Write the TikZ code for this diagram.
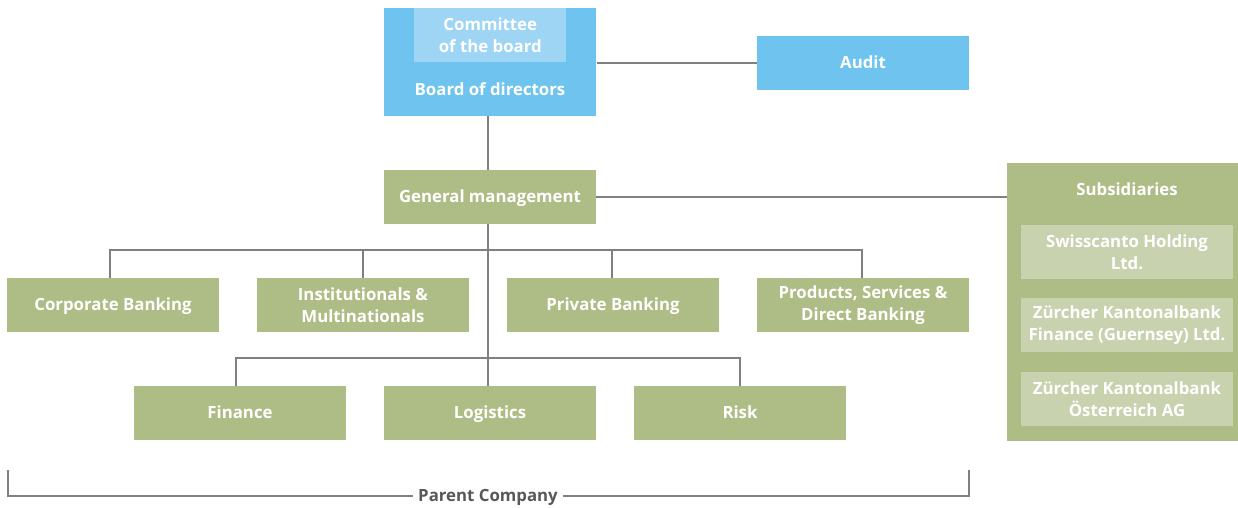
\documentclass[tikz,border=0pt]{standalone}
\usepackage{fontspec}
\setmainfont{Open Sans}
\begin{document}
\begin{tikzpicture}[x=0.75pt,y=-0.75pt,
  font=\bfseries\fontsize{12.6}{16.5}\selectfont,
  box/.style={fill=#1,draw=none,text=white,align=center,inner sep=0pt},
  unit/.style={box=greenA,minimum width=212*0.75pt,minimum height=54*0.75pt},
  one/.style={text height=10pt,text depth=2pt},
  line/.style={draw=black!50,line width=0.9pt}]
\definecolor{blueA}{HTML}{6EC4EE}
\definecolor{blueB}{HTML}{9ED5F4}
\definecolor{greenA}{HTML}{AEBC85}
\definecolor{greenB}{HTML}{C9D2AF}
\definecolor{greytext}{HTML}{58585A}
\useasboundingbox (0,0) rectangle (1238,507);

% Board of directors with committee
\node[box=blueA,minimum width=212*0.75pt,minimum height=108*0.75pt,anchor=north west] (board) at (384,8) {};
\node[box=blueB,minimum width=152*0.75pt,minimum height=54*0.75pt,anchor=north west] (committee) at (414,8) {Committee\\of the board};
\node[text=white,one] (boardlabel) at (490,90) {Board of directors};

\node[box=blueA,one,minimum width=212*0.75pt,minimum height=54*0.75pt] (audit) at (863,63) {Audit};

\node[unit,one] (gm) at (490,197) {General management};

% Subsidiaries
\node[box=greenA,minimum width=231*0.75pt,minimum height=278*0.75pt,anchor=north west] (subs) at (1007,163) {};
\node[text=white,one] (substitle) at (1127,190) {Subsidiaries};
\node[box=greenB,minimum width=212*0.75pt,minimum height=54*0.75pt] (s1) at (1127,252) {Swisscanto Holding\\Ltd.};
\node[box=greenB,minimum width=212*0.75pt,minimum height=54*0.75pt] (s2) at (1127,325) {Zürcher Kantonalbank\\Finance (Guernsey) Ltd.};
\node[box=greenB,minimum width=212*0.75pt,minimum height=54*0.75pt] (s3) at (1127,399) {Zürcher Kantonalbank\\Österreich AG};

% Business units
\node[unit,one] (corp) at (113,305) {Corporate Banking};
\node[unit] (inst) at (363,305) {Institutionals \&\\Multinationals};
\node[unit,one] (priv) at (613,305) {Private Banking};
\node[unit] (prod) at (863,305) {Products, Services \&\\Direct Banking};

% Support units
\node[unit,one] (fin) at (240,413) {Finance};
\node[unit,one] (log) at (490,413) {Logistics};
\node[unit,one] (risk) at (740,413) {Risk};

% Connectors
\draw[line] (board.east |- audit.west) -- (audit.west);
\draw[line] (488,116) -- (488,170);
\draw[line] (gm.east) -- (gm.east -| subs.west);
\draw[line] (488,224) -- (488,386);
\draw[line] (110,278) -- (110,250) -- (862,250) -- (862,278);
\draw[line] (363,250) -- (363,278);
\draw[line] (612,250) -- (612,278);
\draw[line] (236,386) -- (236,358) -- (740,358) -- (740,386);

% Parent company bracket
\node[text=greytext,one] (parent) at (488,496) {Parent Company};
\coordinate (bl) at (8,470);
\coordinate (br) at (969,470);
\draw[line] (bl) -- (bl |- parent) -- (parent.west);
\draw[line] (parent.east) -- (br |- parent) -- (br);
\end{tikzpicture}
\end{document}
